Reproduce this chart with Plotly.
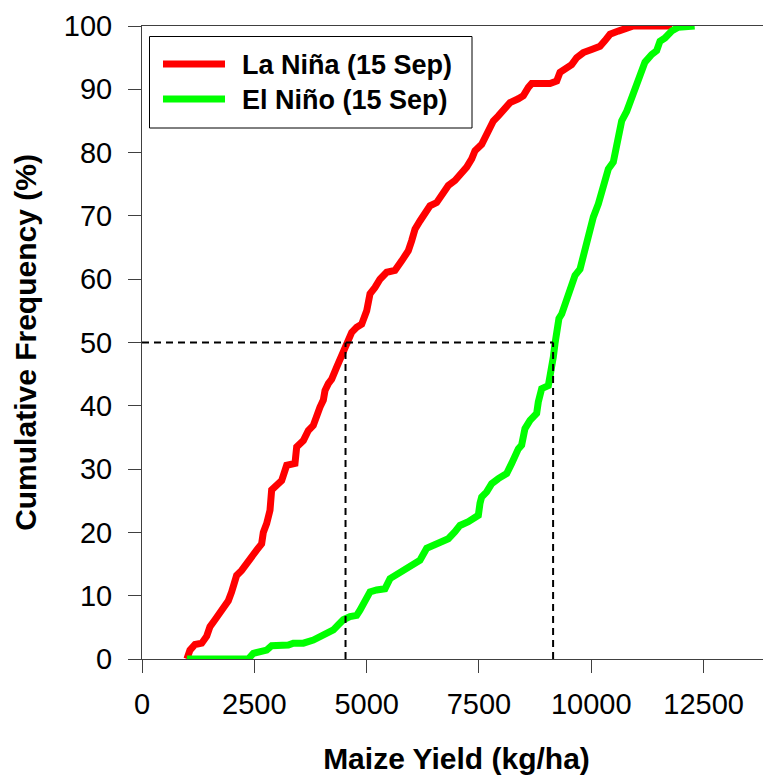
import plotly.graph_objects as go

# La Niña (15 Sep) cumulative distribution
la_nina_yield = [1000, 1068, 1180, 1330, 1440, 1513, 1625, 1736, 1850, 1921, 1995, 2032, 2106, 2218, 2292,
                 2441, 2552, 2663, 2700, 2775, 2849, 2886, 2960, 3109, 3183, 3220, 3405, 3443, 3591, 3702,
                 3813, 3888, 3962, 4036, 4073, 4147, 4222, 4333, 4450, 4556, 4667, 4778, 4890, 5001, 5075,
                 5186, 5297, 5446, 5631, 5780, 5928, 6003, 6076, 6187, 6299, 6410, 6558, 6706, 6818, 6966,
                 7115, 7227, 7338, 7412, 7561, 7634, 7709, 7820, 7931, 8043, 8191, 8376, 8488, 8599, 8673,
                 9081, 9230, 9304, 9452, 9563, 9675, 9823, 10008, 10194, 10305, 10417, 10601, 10787, 10935, 11800]
la_nina_freq = [0, 1.4, 2.3, 2.5, 3.6, 5.1, 6.2, 7.4, 8.3, 9.2, 10.6, 11.7, 13.2, 14, 14.8,
                16.1, 17.2, 18.2, 20, 21.4, 23.5, 26.7, 27.2, 28.2, 29.8, 30.6, 30.9, 33.5, 34.5, 36.1,
                36.9, 38.8, 39.8, 40.9, 42.4, 43.5, 44.2, 46.1, 48, 49.5, 51.6, 52.4, 52.9, 55, 57.7,
                58.7, 60, 61.1, 61.4, 62.9, 64.5, 66.1, 67.9, 69.2, 70.3, 71.6, 72.1, 73.4, 74.8, 75.6,
                76.6, 77.7, 79, 80.3, 81.3, 82.4, 83.7, 85, 85.8, 86.6, 87.9, 88.5, 89, 90.3, 90.9,
                90.9, 91.3, 92.7, 93.4, 93.9, 95, 95.8, 96.3, 96.8, 97.7, 98.7, 99.2, 99.8, 100, 100]

# El Niño (15 Sep) cumulative distribution
el_nino_yield = [1000, 2366, 2478, 2626, 2775, 2886, 3071, 3257, 3368, 3591, 3813, 3962, 4111, 4259, 4370,
                 4481, 4630, 4778, 4852, 4963, 5075, 5223, 5408, 5520, 5700, 5900, 6050, 6187, 6336, 6521,
                 6706, 6818, 6966, 7078, 7264, 7486, 7523, 7560, 7672, 7783, 7931, 8117, 8228, 8302, 8376,
                 8450, 8524, 8636, 8784, 8821, 8896, 9044, 9118, 9155, 9192, 9230, 9280, 9341, 9452, 9563,
                 9638, 9749, 9823, 9897, 9972, 10045, 10157, 10231, 10305, 10379, 10490, 10528, 10602, 10676,
                 10787, 10862, 10973, 11084, 11195, 11344, 11455, 11529, 11640, 11789, 11937, 12300]
el_nino_freq = [0, 0, 0.9, 1.2, 1.4, 2.1, 2.1, 2.2, 2.5, 2.5, 3, 3.5, 4.3, 4.6, 5.4,
                6.2, 6.7, 6.9, 7.7, 9, 10.6, 10.9, 11.1, 12.7, 13.5, 14.2, 15, 15.6, 17.5, 18,
                18.5, 19, 20.1, 21.1, 21.7, 22.7, 24.6, 25.6, 26.4, 27.7, 28.5, 29.3, 30.9, 32.2, 33.2,
                33.8, 36.4, 37.7, 38.8, 40.6, 42.7, 43.2, 45.6, 47.7, 49.8, 52.2, 53.8, 54.5, 56.6, 59.3,
                60.6, 61.6, 63.5, 65.8, 68.2, 69.8, 71.9, 73.7, 75.6, 77.4, 78.5, 80, 82.1, 85,
                86.5, 87.9, 89.7, 92.4, 94.3, 95.5, 96.1, 97.6, 98.1, 99.2, 99.8, 100]

median_yield = [4530, 9150]
median_level = 50

series_names = ["La Niña (15 Sep)", "El Niño (15 Sep)"]
series_colors = ["#FF0000", "#00FF00"]

x_ticks = [0, 2500, 5000, 7500, 10000, 12500]
y_ticks = list(range(0, 101, 10))

FONT = "Arial, 'Liberation Sans', sans-serif"

# page body has an 8px margin; work in window pixels and convert
OFF = 8
W, H = 771 - OFF, 775 - OFF
L, R, T, B = 142 - OFF, 771 - OFF, 26 - OFF, 659 - OFF

fig = go.Figure()
fig.add_trace(go.Scatter(x=la_nina_yield, y=la_nina_freq, mode="lines", name=series_names[0],
                         line=dict(color=series_colors[0], width=7), cliponaxis=False, showlegend=False))
fig.add_trace(go.Scatter(x=el_nino_yield, y=el_nino_freq, mode="lines", name=series_names[1],
                         line=dict(color=series_colors[1], width=7), cliponaxis=False, showlegend=False))

dash = dict(color="black", width=2, dash="7px,5px")
shapes = [
    dict(type="line", xref="x", yref="y", x0=0, x1=median_yield[1], y0=median_level, y1=median_level, line=dash, layer="above"),
    dict(type="line", xref="x", yref="y", x0=median_yield[0], x1=median_yield[0], y0=0, y1=median_level, line=dash, layer="above"),
    dict(type="line", xref="x", yref="y", x0=median_yield[1], x1=median_yield[1], y0=0, y1=median_level, line=dash, layer="above"),
]

def px(x):
    return (x - OFF - L) / (R - L)
def py(y):
    return (B - (y - OFF)) / (B - T)

shapes.append(dict(type="rect", xref="paper", yref="paper", x0=px(149.5), x1=px(472), y0=py(128), y1=py(36.5),
                   line=dict(color="black", width=1), fillcolor="white", layer="above"))
annotations = []
for i, (nm, col) in enumerate(zip(series_names, series_colors)):
    yy = 64 + i * 35
    shapes.append(dict(type="line", xref="paper", yref="paper", x0=px(163), x1=px(225), y0=py(yy), y1=py(yy),
                       line=dict(color=col, width=7), layer="above"))
    annotations.append(dict(xref="paper", yref="paper", x=px(240), y=py(yy + 1), text="<b>" + nm + "</b>",
                            showarrow=False, xanchor="left", yanchor="middle",
                            font=dict(family=FONT, size=27, color="black")))

fig.update_layout(
    width=W, height=H,
    margin=dict(l=L, r=W - R, t=T, b=H - B, pad=0),
    paper_bgcolor="white", plot_bgcolor="white",
    font=dict(family=FONT, color="black"),
    shapes=shapes, annotations=annotations,
    showlegend=False,
    xaxis=dict(range=[0, 14000], tickvals=x_ticks, ticktext=[str(v) for v in x_ticks],
               showgrid=False, zeroline=False, showline=True, linecolor="#404040", linewidth=1,
               mirror=True, ticks="outside", ticklen=13, tickcolor="#404040", tickwidth=1,
               ticklabelstandoff=6,
               tickfont=dict(size=29, family=FONT, color="black"),
               title=dict(text="<b>Maize Yield (kg/ha)</b>", font=dict(size=30, family=FONT, color="black"), standoff=30),
               automargin=False),
    yaxis=dict(range=[0, 100], tickvals=y_ticks, showgrid=False, zeroline=False, showline=True,
               linecolor="#404040", linewidth=1, ticks="outside", ticklen=13, tickcolor="#404040", tickwidth=1,
               ticklabelstandoff=10,
               tickfont=dict(size=29, family=FONT, color="black"),
               title=dict(text="<b>Cumulative Frequency (%)</b>", font=dict(size=30, family=FONT, color="black"), standoff=18),
               automargin=False),
)

fig.write_html("out.html")
